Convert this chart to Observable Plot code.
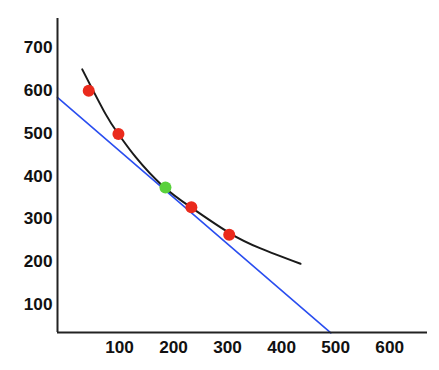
<!DOCTYPE html>
<html>
<head>
<meta charset="utf-8">
<script src="https://cdn.jsdelivr.net/npm/d3@7"></script>
<script src="https://cdn.jsdelivr.net/npm/@observablehq/plot@0.6"></script>
<style>
  html, body { margin: 0; padding: 0; background: #fff; }
  #chart svg { display: block; }
</style>
</head>
<body>
<div id="chart"></div>
<script>
// Curve samples
const curveX = [31, 74, 98, 130, 179, 233, 302, 361, 435];
const curveY = [649, 545, 498, 444, 378, 326, 268, 231, 195];

// Red points
const redX = [43, 98, 233, 303];
const redY = [599, 498, 327, 263];

// Green point
const greenX = [185];
const greenY = [373];

// Blue line end points
const blueX = [-15, 491];
const blueY = [583.5, 33.6];

// Tick labels
const xTicks = [100, 200, 300, 400, 500, 600];
const yTicks = [100, 200, 300, 400, 500, 600, 700];

const xDomain = [-14.8, 670];
const yDomain = [34.6, 767.7];

const curve = curveX.map((x, i) => ({x, y: curveY[i]}));
const red = redX.map((x, i) => ({x, y: redY[i]}));
const green = greenX.map((x, i) => ({x, y: greenY[i]}));
const blue = blueX.map((x, i) => ({x, y: blueY[i]}));

const font = "'Liberation Sans', Arial, Helvetica, sans-serif";

const chart = Plot.plot({
  width: 439,
  height: 370,
  marginLeft: 57,
  marginRight: 12,
  marginTop: 18,
  marginBottom: 38,
  style: {fontFamily: font, background: "#fff", color: "#111"},
  x: {domain: xDomain, axis: null, label: null},
  y: {domain: yDomain, axis: null, label: null},
  marks: [
    Plot.axisY(yTicks, {tickSize: 0, tickPadding: 5, fontSize: 17.2, fontWeight: "bold", fill: "#111", label: null, tickFormat: d => String(d)}),
    Plot.axisX(xTicks, {tickSize: 0, tickPadding: 8, fontSize: 17.2, fontWeight: "bold", fill: "#111", label: null, tickFormat: d => String(d)}),
    Plot.line(blue, {x: "x", y: "y", stroke: "#2a4ef0", strokeWidth: 1.6}),
    Plot.line(curve, {x: "x", y: "y", curve: "natural", stroke: "#1a1a1a", strokeWidth: 2}),
    Plot.dot(red, {x: "x", y: "y", r: 6, fill: "#ea2a1c", stroke: "none"}),
    Plot.dot(green, {x: "x", y: "y", r: 6, fill: "#5ad13c", stroke: "none"}),
    Plot.ruleX([xDomain[0]], {stroke: "#222", strokeWidth: 2}),
    Plot.ruleY([yDomain[0]], {stroke: "#222", strokeWidth: 2})
  ]
});
document.getElementById("chart").appendChild(chart);
</script>
</body>
</html>
